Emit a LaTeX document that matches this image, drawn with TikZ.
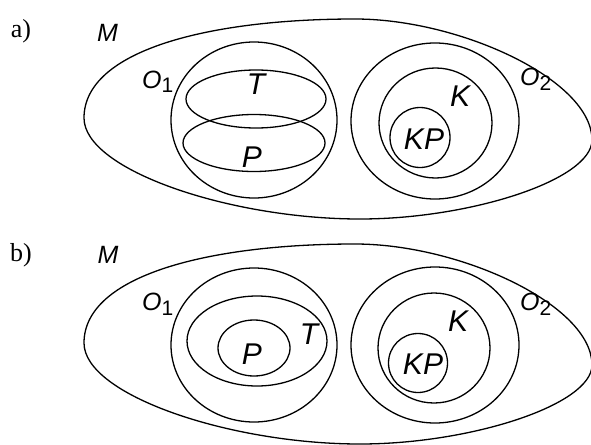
\documentclass[tikz,border=0pt]{standalone}
\usepackage{fontspec}
\setmainfont{Liberation Serif}
\setsansfont{Liberation Sans}
\tikzset{
  line/.style={line width=1.3pt, black},
  small/.style={inner sep=0pt, font=\sffamily\itshape\fontsize{25}{25}\selectfont},
  big/.style={inner sep=0pt, font=\sffamily\itshape\fontsize{30}{30}\selectfont},
  panel/.style={inner sep=0pt, font=\rmfamily\fontsize{26}{26}\selectfont},
}
\newcommand{\mysub}[1]{\raisebox{-5pt}{\upshape\fontsize{21}{21}\selectfont #1}}
\begin{document}
\begin{tikzpicture}[x=1pt,y=-1pt]
\useasboundingbox (0,0) rectangle (591,444);
\clip (0,0) rectangle (591,444);
\def\outershape{(84,118) .. controls (84,50) and (210,19) .. (355,19)
  .. controls (460,19) and (592,80) .. (592,140)
  .. controls (592,180) and (470,219) .. (360,219)
  .. controls (230,219) and (84,170) .. (84,118) -- cycle}
% ---------- panel a
\draw[line] \outershape;
\draw[line] (254,120) ellipse [x radius=83pt, y radius=78pt];
\draw[line] (256,99) ellipse [x radius=70pt, y radius=29pt];
\draw[line] (254,143) ellipse [x radius=71pt, y radius=28.5pt];
\draw[line] (435,121) ellipse [x radius=84pt, y radius=78pt];
\draw[line] (435.5,123) ellipse [x radius=56.5pt, y radius=55pt];
\draw[line] (420,137.5) circle [radius=30pt];
\node[panel] (la) at (21,31) {a)};
\node[small] (Ma) at (107.5,32.5) {M};
\node[small, anchor=base west] (O1a) at (142,88) {O\mysub{1}};
\node[big] (Ta) at (256,84) {T};
\node[big] (Pa) at (252,157) {P};
\node[big] (Ka) at (460,96) {K};
\node[big] (KPa) at (424,139) {KP};
\node[small, anchor=base west] (O2a) at (520,85) {O\mysub{2}};
% ---------- panel b
\begin{scope}[shift={(0,225)}]
\draw[line] \outershape;
\end{scope}
\draw[line] (254,345) ellipse [x radius=83pt, y radius=77pt];
\draw[line] (257,341) ellipse [x radius=70pt, y radius=45pt];
\draw[line] (254,348) ellipse [x radius=36pt, y radius=28pt];
\draw[line] (435,345) ellipse [x radius=84pt, y radius=78pt];
\draw[line] (434,348) ellipse [x radius=56pt, y radius=55pt];
\draw[line] (418,363) circle [radius=29.5pt];
\node[panel] (lb) at (21,255) {b)};
\node[small] (Mb) at (108,255) {M};
\node[small, anchor=base west] (O1b) at (142,310) {O\mysub{1}};
\node[big] (Tb) at (309,334) {T};
\node[big] (Pb) at (252,354) {P};
\node[big] (Kb) at (458,321) {K};
\node[big] (KPb) at (423,364) {KP};
\node[small, anchor=base west] (O2b) at (520,310) {O\mysub{2}};
\end{tikzpicture}
\end{document}
